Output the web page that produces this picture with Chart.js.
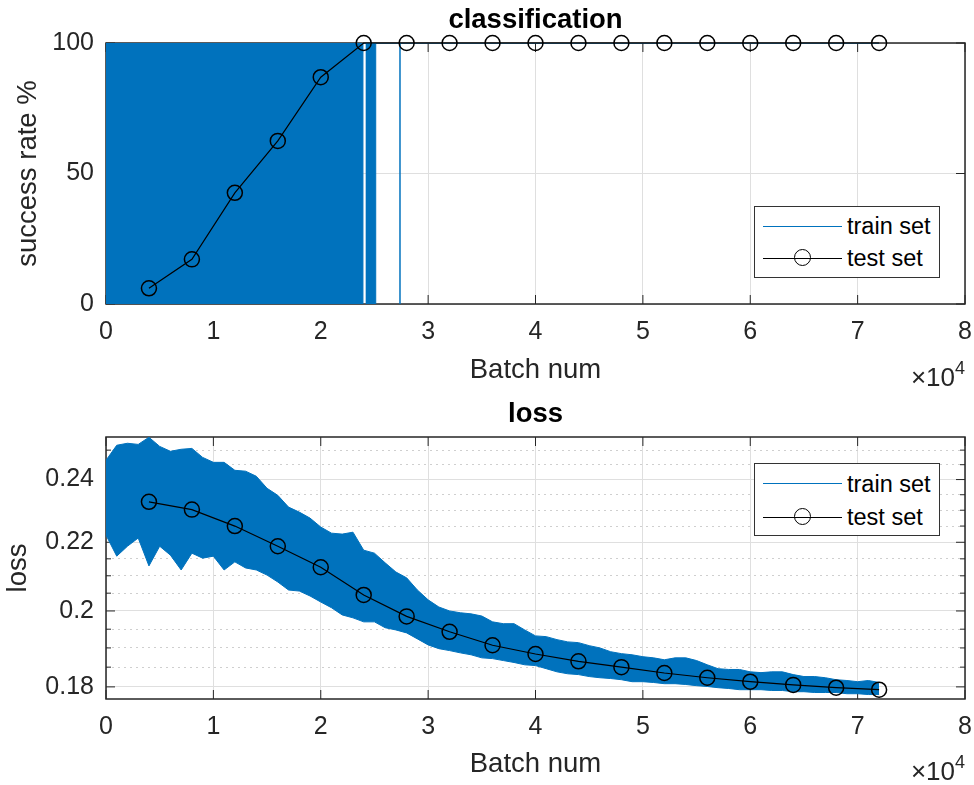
<!DOCTYPE html>
<html>
<head>
<meta charset="utf-8">
<script src="https://cdn.jsdelivr.net/npm/chart.js@4.4.1/dist/chart.umd.min.js"></script>
<style>
    body { margin: 0; background: #fff; width: 974px; height: 785px; position: relative; overflow: hidden; font-family: "Liberation Sans", Arial, sans-serif; }
    canvas { position: absolute; left: 0; }
    #chart-class { top: 0; }
    #chart-loss { top: 390px; }
    .legend { position: absolute; left: 754px; width: 184px; height: 70px; border: 1px solid #333; background: #fff; z-index: 2; }
    .legend .line { position: absolute; left: 8px; width: 79px; height: 1.3px; }
    .legend .mark { position: absolute; left: 39px; width: 15px; height: 15px; border: 1.5px solid #000; border-radius: 50%; }
    .legend .label { position: absolute; left: 92px; font-size: 23.5px; line-height: 28px; color: #000; white-space: nowrap; }
</style>
</head>
<body>
<canvas id="chart-class" width="974" height="390"></canvas>
<canvas id="chart-loss" width="974" height="395"></canvas>

<div class="legend" style="top:206px">
    <div class="line" style="top:18.5px; background:#0072BD"></div>
    <div class="label" style="top:5px">train set</div>
    <div class="line" style="top:51px; background:#000"></div>
    <div class="mark" style="top:42px"></div>
    <div class="label" style="top:37px">test set</div>
</div>
<div class="legend" style="top:463px; height:71px">
    <div class="line" style="top:19px; background:#0072BD"></div>
    <div class="label" style="top:5.5px">train set</div>
    <div class="line" style="top:52.5px; background:#000"></div>
    <div class="mark" style="top:43.5px"></div>
    <div class="label" style="top:38.5px">test set</div>
</div>

<script>
// x axis ticks, in units of 10^4 batches
const batchTicks = [0, 1, 2, 3, 4, 5, 6, 7, 8];
const successTicks = [0, 50, 100];
const lossMajorTicks = [0.18, 0.2, 0.22, 0.24];
const lossMinorTicks = [0.185, 0.19, 0.195, 0.205, 0.21, 0.215, 0.225, 0.23, 0.235, 0.245, 0.25];

// test set evaluated every 4000 batches
const testBatch = [4000, 8000, 12000, 16000, 20000, 24000, 28000, 32000, 36000,
    40000, 44000, 48000, 52000, 56000, 60000, 64000, 68000, 72000];
const testSuccess = [6.0, 17.1, 42.6, 62.5, 86.9, 100, 100, 100, 100,
    100, 100, 100, 100, 100, 100, 100, 100, 100];
const testLoss = [0.2327, 0.2302, 0.2250, 0.2188, 0.2125, 0.2045, 0.1985, 0.1943, 0.1907,
    0.1884, 0.1865, 0.1850, 0.1835, 0.1823, 0.1813, 0.1805, 0.1798, 0.1793];

// train set success is 0 or 100 per batch; spans [start, end] of batches where it still drops to 0
const trainFailSpans = [[0, 23930], [24250, 25120], [27380, 27380]];

// train set loss, spread of the noisy per-batch curve (upper / lower edge) every 1000 batches
const lossBatch = [0, 1000, 2000, 3000, 4000, 5000, 6000, 7000, 8000, 9000,
    10000, 11000, 12000, 13000, 14000, 15000, 16000, 17000, 18000, 19000,
    20000, 21000, 22000, 23000, 24000, 25000, 26000, 27000, 28000, 29000,
    30000, 31000, 32000, 33000, 34000, 35000, 36000, 37000, 38000, 39000,
    40000, 41000, 42000, 43000, 44000, 45000, 46000, 47000, 48000, 49000,
    50000, 51000, 52000, 53000, 54000, 55000, 56000, 57000, 58000, 59000,
    60000, 61000, 62000, 63000, 64000, 65000, 66000, 67000, 68000, 69000,
    70000, 71000, 72000];
const trainLossHigh = [0.2465, 0.2517, 0.2524, 0.2520, 0.2545, 0.2513, 0.2496, 0.2503, 0.2506, 0.2475,
    0.2458, 0.2458, 0.2431, 0.2428, 0.2411, 0.2371, 0.2348, 0.2310, 0.2294, 0.2275,
    0.2247, 0.2228, 0.2225, 0.2231, 0.2176, 0.2167, 0.2138, 0.2111, 0.2094, 0.2059,
    0.2031, 0.2011, 0.2000, 0.1995, 0.1992, 0.1986, 0.1970, 0.1965, 0.1965, 0.1948,
    0.1932, 0.1930, 0.1922, 0.1916, 0.1914, 0.1906, 0.1900, 0.1890, 0.1885, 0.1882,
    0.1877, 0.1874, 0.1869, 0.1874, 0.1874, 0.1867, 0.1856, 0.1846, 0.1844, 0.1844,
    0.1838, 0.1836, 0.1838, 0.1838, 0.1831, 0.1826, 0.1826, 0.1823, 0.1818, 0.1816,
    0.1813, 0.1816, 0.1811];
const trainLossLow = [0.2222, 0.2158, 0.2188, 0.2213, 0.2129, 0.2188, 0.2161, 0.2117, 0.2167, 0.2152,
    0.2158, 0.2117, 0.2141, 0.2123, 0.2117, 0.2102, 0.2082, 0.2059, 0.2056, 0.2042,
    0.2025, 0.2009, 0.1989, 0.1981, 0.1970, 0.1970, 0.1954, 0.1948, 0.1940, 0.1924,
    0.1908, 0.1898, 0.1893, 0.1887, 0.1882, 0.1874, 0.1872, 0.1867, 0.1862, 0.1856,
    0.1854, 0.1846, 0.1838, 0.1833, 0.1831, 0.1826, 0.1823, 0.1821, 0.1818, 0.1813,
    0.1813, 0.1811, 0.1808, 0.1808, 0.1806, 0.1803, 0.1801, 0.1798, 0.1796, 0.1793,
    0.1793, 0.1793, 0.1791, 0.1791, 0.1788, 0.1788, 0.1786, 0.1786, 0.1786, 0.1783,
    0.1783, 0.1781, 0.1781];

const BLUE = '#0072BD';
const AXIS = '#262626';
const GRID = '#dfdfdf';
const FONT = '"Liberation Sans", Arial, sans-serif';
const tickFont = { family: FONT, size: 25 };
const labelFont = { family: FONT, size: 27.5 };
const titleFont = { family: FONT, size: 27.5, weight: 'bold' };

Chart.defaults.animation = false;
Chart.defaults.color = AXIS;

// MATLAB style box: inward ticks on all four sides, drawn under the data, plus the x10^4 multiplier
const axesBox = {
    id: 'axesBox',
    beforeDatasetsDraw(chart, args, opts) {
        const { ctx, chartArea: a, scales } = chart;
        ctx.save();
        ctx.strokeStyle = AXIS;
        ctx.lineWidth = 1;
        const seg = (x1, y1, x2, y2) => { ctx.beginPath(); ctx.moveTo(x1, y1); ctx.lineTo(x2, y2); ctx.stroke(); };
        opts.xTicks.forEach(v => {
            const px = scales.x.getPixelForValue(v);
            seg(px, a.bottom, px, a.bottom - 9);
            seg(px, a.top, px, a.top + 9);
        });
        const yTick = (v, len) => {
            const py = scales.y.getPixelForValue(v);
            seg(a.left, py, a.left + len, py);
            seg(a.right, py, a.right - len, py);
        };
        opts.yTicks.forEach(v => yTick(v, 9));
        (opts.yMinor || []).forEach(v => yTick(v, 5));
        ctx.lineWidth = 1.5;
        ctx.strokeRect(a.left, a.top, a.right - a.left, a.bottom - a.top);
        ctx.restore();
    },
    afterDraw(chart, args, opts) {
        const { ctx, chartArea: a } = chart;
        ctx.save();
        ctx.fillStyle = AXIS;
        ctx.textBaseline = 'alphabetic';
        ctx.textAlign = 'right';
        ctx.font = '18px ' + FONT;
        ctx.fillText('4', a.right, opts.expBase - 12);
        const w4 = ctx.measureText('4').width;
        ctx.font = '26px ' + FONT;
        ctx.fillText('\u00d710', a.right - w4, opts.expBase);
        ctx.restore();
    }
};

function xScale(titlePadBottom) {
    return {
        type: 'linear',
        min: 0,
        max: 80000,
        afterBuildTicks: s => { s.ticks = batchTicks.map(v => ({ value: v * 10000 })); },
        afterFit: s => { s.height = 86; s.paddingLeft = 0; s.paddingRight = 0; },
        ticks: { font: tickFont, color: AXIS, padding: 13, maxRotation: 0, autoSkip: false, callback: v => String(v / 10000) },
        grid: { color: GRID, drawTicks: false },
        border: { display: false },
        title: { display: true, text: 'Batch num', font: labelFont, color: AXIS, padding: { top: 0, bottom: titlePadBottom } }
    };
}

// classification: train set as 0/100 spans, filled up to 100
const trainClassPts = [];
let lastEnd = 0;
trainFailSpans.forEach(([s, e]) => {
    if (s > lastEnd) trainClassPts.push({ x: lastEnd, y: 100 }, { x: s, y: 100 });
    trainClassPts.push({ x: s, y: 0 }, { x: e, y: 0 });
    lastEnd = e;
});
trainClassPts.push({ x: lastEnd, y: 100 }, { x: testBatch[testBatch.length - 1], y: 100 });

const testStyle = {
    borderColor: '#000',
    borderWidth: 1.2,
    pointRadius: 7.5,
    pointBorderWidth: 1.5,
    pointBorderColor: '#000',
    pointBackgroundColor: 'rgba(0,0,0,0)',
    tension: 0,
    fill: false,
    clip: false,
    order: 0
};

new Chart(document.getElementById('chart-class'), {
    type: 'line',
    data: {
        datasets: [
            Object.assign({ label: 'test set', data: testBatch.map((b, i) => ({ x: b, y: testSuccess[i] })) }, testStyle),
            {
                label: 'train set',
                data: trainClassPts,
                borderColor: BLUE,
                backgroundColor: BLUE,
                borderWidth: 1,
                pointRadius: 0,
                tension: 0,
                fill: { value: 100 },
                order: 1
            }
        ]
    },
    options: {
        responsive: false,
        events: [],
        layout: { padding: { left: 0, right: 8, top: 0, bottom: 0 } },
        scales: {
            x: xScale(3.5),
            y: {
                type: 'linear',
                min: 0,
                max: 100,
                afterBuildTicks: s => { s.ticks = successTicks.map(v => ({ value: v })); },
                afterFit: s => { s.width = 106; },
                ticks: { font: tickFont, color: AXIS, padding: 12 },
                grid: { color: GRID, drawTicks: false },
                border: { display: false },
                title: { display: true, text: 'success rate %', font: labelFont, color: AXIS, padding: { top: 11.5, bottom: 0 } }
            }
        },
        plugins: {
            legend: { display: false },
            tooltip: { enabled: false },
            title: { display: true, text: 'classification', font: titleFont, color: '#000', fullSize: false, padding: { top: 4, bottom: 6 } },
            axesBox: { xTicks: batchTicks.map(v => v * 10000), yTicks: successTicks, expBase: 386 }
        }
    },
    plugins: [axesBox]
});

new Chart(document.getElementById('chart-loss'), {
    type: 'line',
    data: {
        datasets: [
            Object.assign({ label: 'test set', data: testBatch.map((b, i) => ({ x: b, y: testLoss[i] })) }, testStyle),
            {
                label: 'train set',
                data: lossBatch.map((b, i) => ({ x: b, y: trainLossHigh[i] })),
                borderColor: BLUE,
                backgroundColor: BLUE,
                borderWidth: 1,
                pointRadius: 0,
                tension: 0,
                fill: '+1',
                order: 1
            },
            {
                label: 'train set low',
                data: lossBatch.map((b, i) => ({ x: b, y: trainLossLow[i] })),
                borderColor: BLUE,
                borderWidth: 1,
                pointRadius: 0,
                tension: 0,
                fill: false,
                order: 2
            }
        ]
    },
    options: {
        responsive: false,
        events: [],
        layout: { padding: { left: 0, right: 8, top: 0, bottom: 0 } },
        scales: {
            x: xScale(4.5),
            y: {
                type: 'logarithmic',
                min: 0.1774,
                max: 0.2546,
                afterBuildTicks: s => { s.ticks = lossMajorTicks.map(v => ({ value: v })); },
                afterFit: s => { s.width = 106; },
                ticks: { font: tickFont, color: AXIS, padding: 12, callback: v => String(v) },
                grid: { color: GRID, drawTicks: false },
                border: { display: false },
                title: { display: true, text: 'loss', font: labelFont, color: AXIS, padding: { top: 1.5, bottom: 0 } }
            },
            yMinor: {
                type: 'logarithmic',
                position: 'left',
                min: 0.1774,
                max: 0.2546,
                afterBuildTicks: s => { s.ticks = lossMinorTicks.map(v => ({ value: v })); },
                afterFit: s => { s.width = 0; },
                ticks: { display: false },
                grid: { color: '#cfcfcf', drawTicks: false },
                border: { display: false, dash: [2, 4] }
            }
        },
        plugins: {
            legend: { display: false },
            tooltip: { enabled: false },
            title: { display: true, text: 'loss', font: titleFont, color: '#000', fullSize: false, padding: { top: 8, bottom: 6 } },
            axesBox: { xTicks: batchTicks.map(v => v * 10000), yTicks: lossMajorTicks, yMinor: lossMinorTicks, expBase: 390 }
        }
    },
    plugins: [axesBox]
});
</script>
</body>
</html>
